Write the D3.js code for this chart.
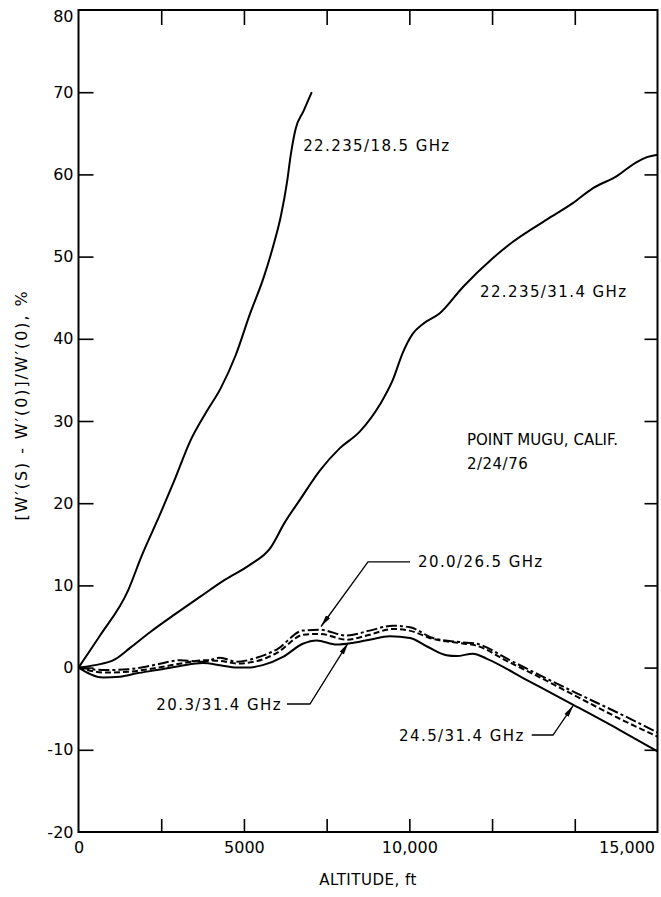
<!DOCTYPE html>
<html><head><meta charset="utf-8">
<script src="https://cdn.jsdelivr.net/npm/d3@7"></script>
<style>body{margin:0;background:#fff}</style>
</head><body><svg id="c" width="661" height="897"></svg>
<script>
// ---- data (altitude ft, % change) ----
const alt_18_5 = [0, 650, 1500, 1900, 2460, 2920, 3370, 3850, 4300, 4750, 5180, 5600, 5900, 6120, 6300, 6420, 6560, 6800, 7050];
const val_18_5 = [0, 3.9, 9.4, 13.5, 18.6, 23.0, 27.5, 31.0, 34.0, 38.0, 43.0, 47.5, 51.5, 55.0, 59.0, 62.5, 65.5, 67.7, 70.0];

const alt_31_4 = [0, 500, 1100, 1560, 2160, 2920, 3670, 4430, 5180, 5790, 6240, 6690, 7300, 7900, 8500, 9110, 9500, 9800, 10100, 10410, 10920, 11620, 12520, 13130, 14150, 14940, 15540, 16270, 16870, 17180, 17500];
const val_31_4 = [0, 0.3, 1.0, 2.4, 4.3, 6.5, 8.6, 10.7, 12.5, 14.5, 17.7, 20.4, 24.0, 26.7, 28.7, 32.0, 35.0, 38.3, 40.6, 41.8, 43.1, 46.3, 49.8, 51.8, 54.5, 56.5, 58.3, 59.8, 61.5, 62.1, 62.4];

const alt_24_5 = [0, 740, 1250, 1760, 2360, 3070, 3760, 4280, 4780, 5080, 5570, 6180, 6780, 7200, 7800, 8290, 8800, 9410, 10020, 10520, 11120, 11430, 11920, 12330, 13540, 14940, 16360, 17500];
const val_24_5 = [0, -1.2, -1.1, -0.7, -0.3, 0.2, 0.55, 0.3, 0.0, 0.0, 0.3, 1.3, 2.9, 3.3, 2.8, 3.0, 3.4, 3.8, 3.6, 2.6, 1.5, 1.4, 1.7, 1.1, -1.5, -4.5, -7.6, -10.2];

const alt_20_3 = [0, 800, 1500, 2400, 3100, 3800, 4300, 4800, 5400, 6000, 6800, 7300, 8100, 8800, 9500, 10000, 10700, 11500, 12000, 13000, 14000, 15000, 16500, 17500];
const val_20_3 = [0, -0.6, -0.5, 0.0, 0.5, 0.9, 0.8, 0.5, 0.8, 1.8, 4.0, 4.1, 3.4, 4.0, 4.7, 4.5, 3.5, 3.0, 2.7, 0.7, -1.3, -3.4, -6.5, -8.4];

const alt_20_0 = [0, 800, 1500, 2400, 3070, 3760, 4280, 4780, 5380, 5990, 6780, 7300, 8100, 8800, 9500, 10020, 10710, 11530, 12030, 13040, 14030, 15050, 16560, 17500];
const val_20_0 = [0, -0.3, -0.2, 0.4, 0.9, 0.7, 1.2, 0.7, 1.2, 2.2, 4.5, 4.6, 3.9, 4.5, 5.1, 4.9, 3.6, 3.1, 2.9, 0.9, -1.1, -3.1, -6.0, -7.9];

const yTicks = [-20, -10, 0, 10, 20, 30, 40, 50, 60, 70, 80];
const xMinorTicks = [2500, 5000, 7500, 10000, 12500, 15000];
const xLabelTicks = [0, 5000, 10000, 15000];
const xTickLabels = ["0", "5000", "10,000", "15,000"];

const seriesNames = ["22.235/18.5 GHz", "22.235/31.4 GHz", "24.5/31.4 GHz", "20.3/31.4 GHz", "20.0/26.5 GHz"];

// ---- layout ----
const svg = d3.select("#c");
const x = d3.scaleLinear().domain([0, 17500]).range([78.5, 657.5]);
const y = d3.scaleLinear().domain([-20, 80]).range([832, 10]);
const FONT = "DejaVu Sans, sans-serif";

const series = [
  {alt: alt_18_5, val: val_18_5, dash: null},
  {alt: alt_31_4, val: val_31_4, dash: null},
  {alt: alt_24_5, val: val_24_5, dash: null},
  {alt: alt_20_3, val: val_20_3, dash: "6,3"},
  {alt: alt_20_0, val: val_20_0, dash: "11,3,3,3"}
];

const line = d3.line().x(d => x(d[0])).y(d => y(d[1])).curve(d3.curveMonotoneX);

const g = svg.append("g");
series.forEach(s => {
  const pts = s.alt.map((a, i) => [a, s.val[i]]);
  g.append("path").attr("d", line(pts)).attr("fill", "none")
    .attr("stroke", "#000").attr("stroke-width", 2)
    .attr("stroke-dasharray", s.dash);
});

// ---- frame ----
svg.append("rect").attr("x", x(0)).attr("y", y(80))
  .attr("width", x(17500) - x(0)).attr("height", y(-20) - y(80))
  .attr("fill", "none").attr("stroke", "#000").attr("stroke-width", 2);

// inner ticks
const tickStyle = sel => { sel.select(".domain").remove(); sel.selectAll("line").attr("stroke", "#000").attr("stroke-width", 1.6); sel.selectAll("text").remove(); };
svg.append("g").attr("transform", `translate(${x(0)},0)`)
  .call(d3.axisRight(y).tickValues(yTicks.filter(d => d > -20 && d < 80)).tickSize(15)).call(tickStyle);
svg.append("g").attr("transform", `translate(${x(17500)},0)`)
  .call(d3.axisLeft(y).tickValues(yTicks.filter(d => d > -20 && d < 80)).tickSize(13)).call(tickStyle);
svg.append("g").attr("transform", `translate(0,${y(-20)})`)
  .call(d3.axisTop(x).tickValues(xMinorTicks).tickSize(13)).call(tickStyle);
svg.append("g").attr("transform", `translate(0,${y(80)})`)
  .call(d3.axisBottom(x).tickValues(xMinorTicks).tickSize(15)).call(tickStyle);

// tick labels
const yl = svg.append("g").attr("transform", `translate(${x(0)},0)`)
  .call(d3.axisLeft(y).tickValues(yTicks).tickSize(0).tickPadding(5).tickFormat(d => String(d)));
yl.select(".domain").remove();
yl.selectAll("text").attr("font-family", FONT).attr("font-size", 16).attr("fill", "#000");
yl.selectAll(".tick").filter(d => d === 80).select("text").attr("dy", "0.7em");

const xl = svg.append("g").attr("transform", `translate(0,${y(-20)})`)
  .call(d3.axisBottom(x).tickValues(xLabelTicks).tickSize(0).tickPadding(10)
    .tickFormat((d, i) => xTickLabels[i]));
xl.select(".domain").remove();
xl.selectAll("text").attr("font-family", FONT).attr("font-size", 16).attr("fill", "#000");
xl.selectAll(".tick").filter(d => d === 15000).select("text")
  .attr("text-anchor", "end").attr("x", x(17500) - x(15000) - 3);

// axis titles
svg.append("text").attr("x", 368).attr("y", 885).attr("text-anchor", "middle")
  .attr("font-family", FONT).attr("font-size", 15).attr("letter-spacing", 0.5)
  .text("ALTITUDE, ft");
svg.append("text").attr("transform", "translate(27,405) rotate(-90)").attr("text-anchor", "middle")
  .attr("font-family", FONT).attr("font-size", 16).attr("letter-spacing", 1.9)
  .text("[W′(S) - W′(0)]/W′(0), %");

// ---- labels & annotations ----
const lab = (t, a, v, anchor, ls) => svg.append("text")
  .attr("x", x(a)).attr("y", y(v) + 5.5).attr("text-anchor", anchor || "start")
  .attr("font-family", FONT).attr("font-size", 15).attr("letter-spacing", ls == null ? 1.4 : ls)
  .text(t);

lab(seriesNames[0], 6790, 63.5);
lab(seriesNames[1], 12135, 45.8);
lab("POINT MUGU, CALIF.", 11740, 27.8, "start", 0);
lab("2/24/76", 11740, 24.8, "start", 0.5);

svg.append("defs").append("marker").attr("id", "ah")
  .attr("viewBox", "0 0 12 6").attr("refX", 12).attr("refY", 3)
  .attr("markerWidth", 12).attr("markerHeight", 6).attr("markerUnits", "userSpaceOnUse")
  .attr("orient", "auto")
  .append("path").attr("d", "M0,0.5 L12,3 L0,5.5 Z").attr("fill", "#000");

const annotations = [
  {name: seriesNames[4], tip: [7330, 5.0], elbow: [8750, 12.85], end: [10020, 12.85], anchor: "start", gap: 8},
  {name: seriesNames[3], tip: [8150, 3.0], elbow: [6995, -4.43], end: [6300, -4.43], anchor: "end", gap: -5},
  {name: seriesNames[2], tip: [14955, -4.6], elbow: [14342, -8.2], end: [13698, -8.2], anchor: "end", gap: -7}
];
annotations.forEach(a => {
  svg.append("path")
    .attr("d", `M${x(a.end[0])},${y(a.end[1])} L${x(a.elbow[0])},${y(a.elbow[1])} L${x(a.tip[0])},${y(a.tip[1])}`)
    .attr("fill", "none").attr("stroke", "#000").attr("stroke-width", 1.3)
    .attr("marker-end", "url(#ah)");
  svg.append("text").attr("x", x(a.end[0]) + a.gap).attr("y", y(a.end[1]) + 5.5)
    .attr("text-anchor", a.anchor).attr("font-family", FONT).attr("font-size", 15)
    .attr("letter-spacing", 1.4).text(a.name);
});
</script></body></html>
